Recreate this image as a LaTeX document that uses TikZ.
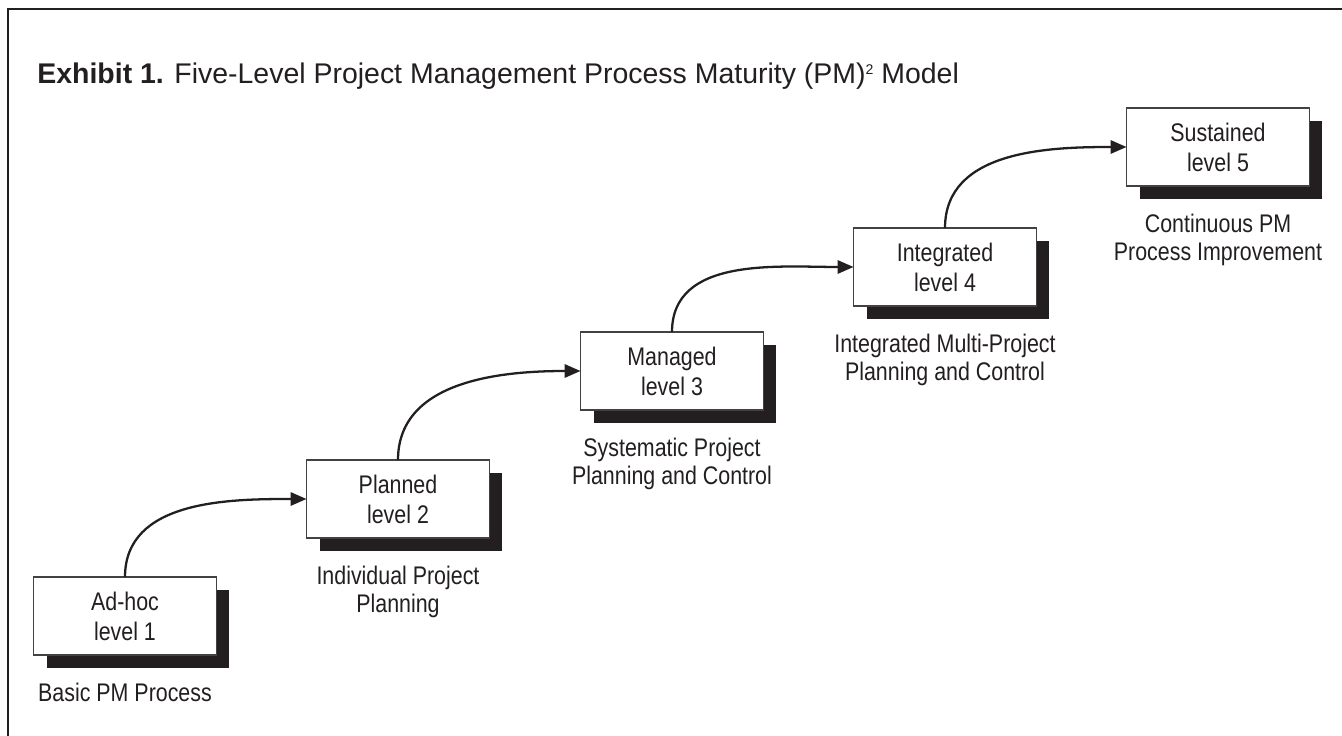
\documentclass[tikz,border=0pt]{standalone}
\usepackage{fontspec}
\setmainfont[FakeStretch=0.84]{Liberation Sans}
\newfontfamily\titlefont{Liberation Sans}
\usetikzlibrary{arrows.meta,positioning,shadows}

\definecolor{ink}{HTML}{231F20}

\newcommand{\smallsq}{\raisebox{0.62ex}{\fontsize{8}{8}\selectfont 2}}

\tikzset{
  lvlbox/.style = {draw=ink!85, line width=0.6pt, fill=white, text=ink,
    minimum width=3.66cm, minimum height=1.56cm, outer sep=0pt,
    align=center, font=\fontsize{14.5}{17}\selectfont,
    drop shadow={shadow xshift=0.26cm, shadow yshift=-0.26cm, fill=ink, opacity=1}},
  lvltext/.style = {text=ink, align=center, inner sep=0pt,
    font=\fontsize{14.5}{16}\selectfont},
  stepline/.style = {draw=ink, line width=1.3pt, -{Triangle[length=9pt, width=7.5pt]}}
}

\begin{document}
\begin{tikzpicture}[x=0.02cm, y=-0.02cm]
	\useasboundingbox (0,0) rectangle (1342,736);
	% frame, only top and left edges show
	\draw [ink, line width=1.7pt] (8,740) -- (8,9) -- (1346,9);
	\node [anchor=base west, inner sep=0pt, text=ink, font=\titlefont\fontsize{16.2}{19}\selectfont] (title) at (37,84)
		{\textbf{Exhibit 1.} Five-Level Project Management Process Maturity (PM)\smallsq{} Model};
	% the five levels
	\node [lvlbox] (lvl1) at (125,616) {Ad-hoc\\level 1};
	\node [lvlbox] (lvl2) at (398,499) {Planned\\level 2};
	\node [lvlbox] (lvl3) at (672,371) {Managed\\level 3};
	\node [lvlbox] (lvl4) at (945,267) {Integrated\\level 4};
	\node [lvlbox] (lvl5) at (1218,147) {Sustained\\level 5};
	% what each level means
	\node [lvltext, below=0.56cm of lvl1] (lab1) {Basic PM Process};
	\node [lvltext, below=0.56cm of lvl2] (lab2) {Individual Project\\Planning};
	\node [lvltext, below=0.56cm of lvl3] (lab3) {Systematic Project\\Planning and Control};
	\node [lvltext, below=0.56cm of lvl4] (lab4) {Integrated Multi-Project\\Planning and Control};
	\node [lvltext, below=0.56cm of lvl5] (lab5) {Continuous PM\\Process Improvement};
	% steps up
	\draw [stepline] (lvl1.north) to [out=90, in=180] (lvl2.west);
	\draw [stepline] (lvl2.north) to [out=90, in=180] (lvl3.west);
	\draw [stepline] (lvl3.north) to [out=90, in=180] (lvl4.west);
	\draw [stepline] (lvl4.north) to [out=90, in=180] (lvl5.west);
\end{tikzpicture}
\end{document}
